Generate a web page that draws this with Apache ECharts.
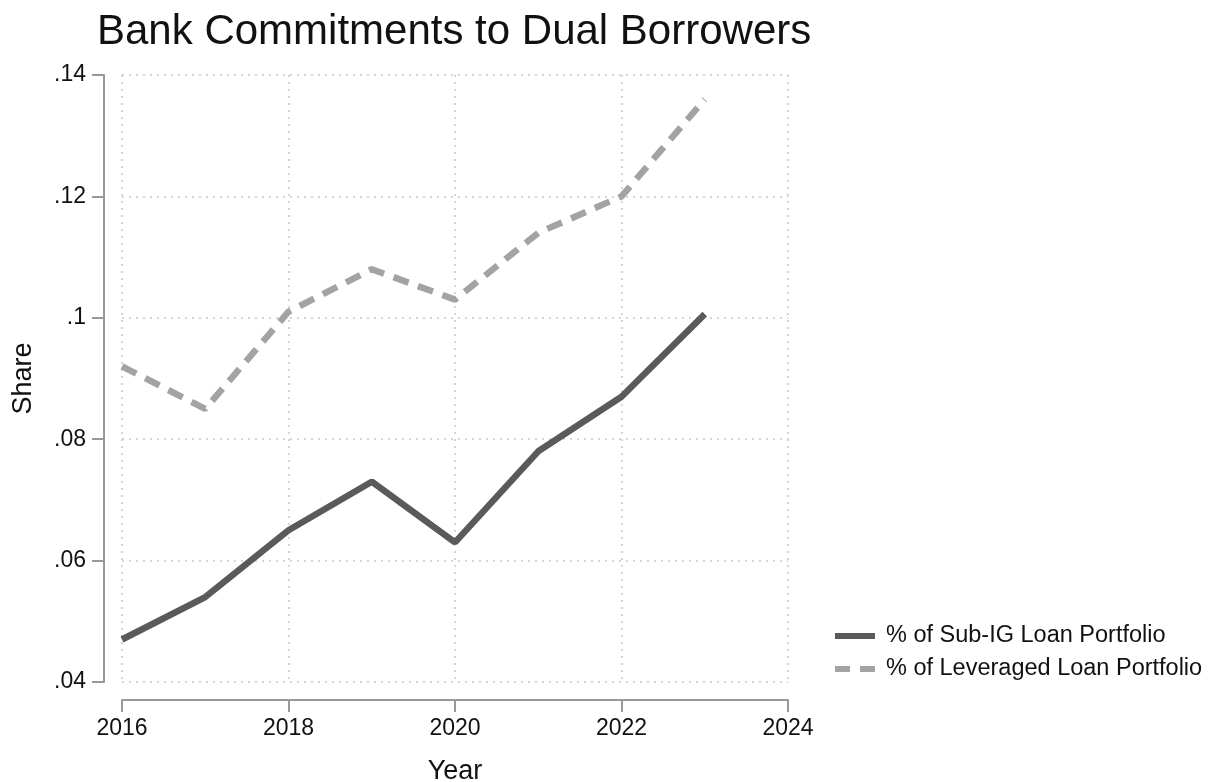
<!DOCTYPE html>
<html>
<head>
<meta charset="utf-8">
<script src="https://cdn.jsdelivr.net/npm/echarts@6/dist/echarts.min.js"></script>
<style>
  html, body { margin: 0; padding: 0; background: #fff; }
  #main { width: 1219px; height: 782px; }
</style>
</head>
<body>
<div id="main"></div>
<script>
var years = [2016, 2017, 2018, 2019, 2020, 2021, 2022, 2023];
var subIG = [0.047, 0.054, 0.065, 0.073, 0.063, 0.078, 0.087, 0.1006];
var leveraged = [0.092, 0.085, 0.101, 0.108, 0.103, 0.114, 0.120, 0.136];
var seriesNames = ['% of Sub-IG Loan Portfolio', '% of Leveraged Loan Portfolio'];

function pairs(vals) {
    return vals.map(function (v, i) { return [years[i], v]; });
}

var font = 'Liberation Sans, Arial, sans-serif';
var gridLine = { show: true, lineStyle: { color: '#c8c8c8', type: [2, 5], width: 1.5 } };

var option = {
    animation: false,
    textStyle: { fontFamily: font },
    title: {
        text: 'Bank Commitments to Dual Borrowers',
        left: 92,
        top: 6,
        textStyle: { fontSize: 42, fontWeight: 'normal', color: '#111', fontFamily: font }
    },
    legend: {
        orient: 'vertical',
        left: 830,
        top: 619,
        itemWidth: 40,
        itemHeight: 6,
        itemGap: 9,
        textStyle: { fontSize: 23.5, lineHeight: 24, color: '#111', fontFamily: font, padding: [0, 0, 0, 6] },
        data: [
            { name: seriesNames[0], icon: 'path://M0,0H40V6H0Z' },
            { name: seriesNames[1], icon: 'path://M0,0H15V6H0Z M25,0H40V6H25Z' }
        ]
    },
    grid: { left: 122, right: 431, top: 75, bottom: 100, containLabel: false, outerBoundsMode: 'none' },
    xAxis: {
        type: 'value',
        min: 2016,
        max: 2024,
        interval: 2,
        offset: 18,
        name: 'Year',
        nameLocation: 'middle',
        nameGap: 58,
        nameTextStyle: { fontSize: 27, color: '#111' },
        axisLine: { lineStyle: { color: '#999', width: 2 } },
        axisTick: { length: 12, lineStyle: { color: '#999', width: 2 } },
        axisLabel: { fontSize: 23, color: '#111', margin: 17, formatter: function (v) { return String(v); } },
        splitLine: gridLine
    },
    yAxis: {
        type: 'value',
        min: 0.04,
        max: 0.14,
        interval: 0.02,
        offset: 18,
        name: 'Share',
        nameLocation: 'middle',
        nameGap: 67,
        nameRotate: 90,
        nameTextStyle: { fontSize: 27, color: '#111' },
        axisLine: { show: true, lineStyle: { color: '#999', width: 2 } },
        axisTick: { show: true, length: 12, lineStyle: { color: '#999', width: 2 } },
        axisLabel: {
            fontSize: 23, color: '#111', margin: 18,
            formatter: function (v) {
                return parseFloat(v.toFixed(2)).toString().replace(/^0/, '');
            }
        },
        splitLine: gridLine
    },
    series: [
        {
            name: seriesNames[0],
            type: 'line',
            symbol: 'none',
            data: pairs(subIG),
            lineStyle: { color: '#5a5a5a', width: 6.5 },
            itemStyle: { color: '#5a5a5a' }
        },
        {
            name: seriesNames[1],
            type: 'line',
            symbol: 'none',
            data: pairs(leveraged),
            lineStyle: { color: '#a3a3a3', width: 6.5, type: [16, 10] },
            itemStyle: { color: '#a3a3a3' }
        }
    ]
};

echarts.init(document.getElementById('main')).setOption(option);
</script>
</body>
</html>
